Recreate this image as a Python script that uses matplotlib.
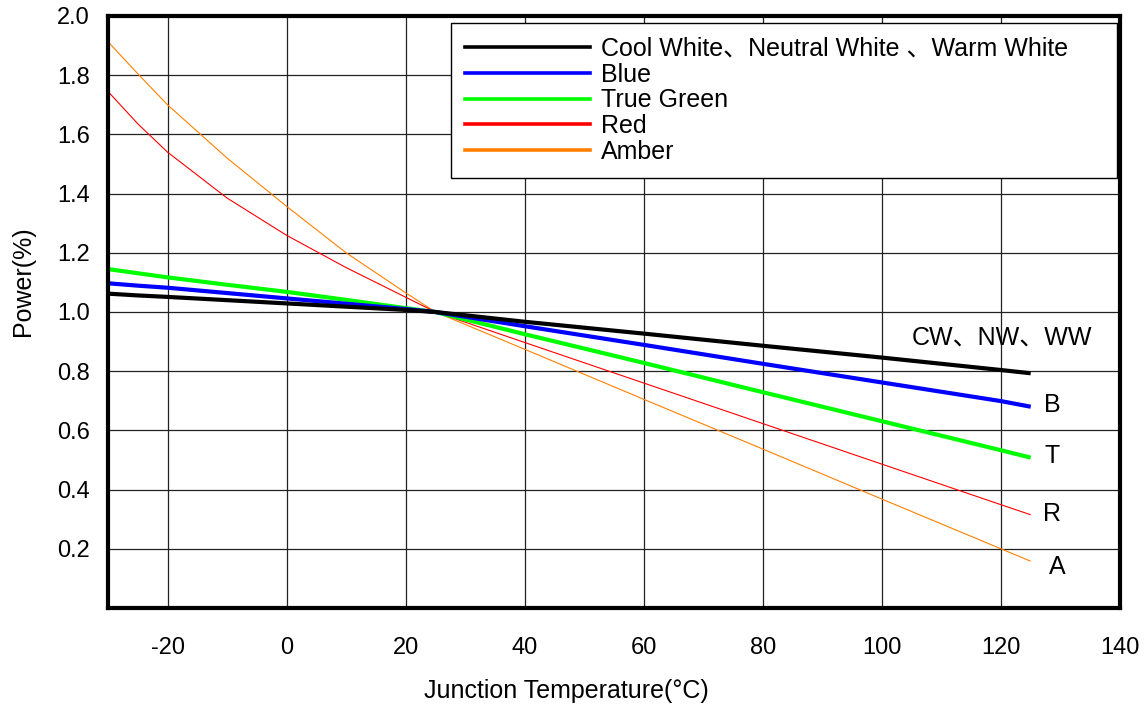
import numpy as np
import matplotlib
matplotlib.use("Agg")
from matplotlib import pyplot as plt
from matplotlib.lines import Line2D

plt.rcParams['font.family'] = ['Liberation Sans', 'Noto Sans CJK SC', 'DejaVu Sans']

# junction temperature (°C)
temps = [-30, -25, -20, -10, 0, 10, 20, 25, 40, 60, 80, 100, 120, 125]

# relative power
cw_nw_ww = [1.062, 1.056, 1.051, 1.040, 1.029, 1.018, 1.007, 1.0, 0.967, 0.927, 0.886, 0.846, 0.804, 0.793]
blue = [1.097, 1.089, 1.082, 1.064, 1.046, 1.028, 1.010, 1.0, 0.952, 0.889, 0.825, 0.762, 0.699, 0.680]
true_green = [1.145, 1.131, 1.117, 1.092, 1.068, 1.041, 1.013, 1.0, 0.925, 0.828, 0.729, 0.631, 0.533, 0.508]
red = [1.745, 1.636, 1.540, 1.385, 1.259, 1.150, 1.050, 1.0, 0.897, 0.760, 0.623, 0.486, 0.349, 0.315]
amber = [1.913, 1.805, 1.700, 1.520, 1.357, 1.200, 1.065, 1.0, 0.874, 0.705, 0.537, 0.368, 0.200, 0.158]

series_names = ["Cool White\u3001Neutral White \u3001Warm White", "Blue", "True Green", "Red", "Amber"]
series_colors = ["#000000", "#0000ff", "#00ff00", "#ff0000", "#ff8000"]
series_widths = [3.0, 3.0, 3.0, 0.8, 0.8]
end_labels = ["CW\u3001NW\u3001WW", "B", "T", "R", "A"]
end_label_pos = [(120.2, 0.913), (128.6, 0.687), (128.6, 0.513), (128.6, 0.318), (129.4, 0.14)]

x_ticks = [-20, 0, 20, 40, 60, 80, 100, 120, 140]
y_ticks = [0.2, 0.4, 0.6, 0.8, 1.0, 1.2, 1.4, 1.6, 1.8, 2.0]

fig = plt.figure(figsize=(11.44, 7.06), dpi=100)
ax = fig.add_axes([108 / 1144, 1 - 608 / 706, 1012 / 1144, 592 / 706])

all_series = [cw_nw_ww, blue, true_green, red, amber]
for i in range(len(all_series)):
    ax.plot(temps, all_series[i], color=series_colors[i], lw=series_widths[i],
            zorder=10 - i, solid_capstyle='butt')

for lab, (x, y) in zip(end_labels, end_label_pos):
    ax.text(x, y, lab, fontsize=18, ha='center', va='center', color='black')

ax.set_xlim(-30, 140)
ax.set_ylim(0, 2.0)
ax.set_xticks(x_ticks)
ax.set_yticks(y_ticks)
ax.set_xticklabels([str(t) for t in x_ticks])
ax.set_yticklabels(["%.1f" % t for t in y_ticks])
ax.tick_params(axis='both', length=0, labelsize=17)
ax.tick_params(axis='x', pad=21)
ax.tick_params(axis='y', pad=13)
ax.grid(True, color='#222222', lw=0.9)
ax.set_axisbelow(True)
for sp in ax.spines.values():
    sp.set_linewidth(3)
    sp.set_color('black')
    sp.set_zorder(20)

ax.set_xlabel("Junction Temperature(\u00b0C)", fontsize=18)
ax.set_ylabel("Power(%)", fontsize=18)
ax.xaxis.set_label_coords(0.4526, -0.120)
ax.yaxis.set_label_coords(-0.072, 0.552)

handles = [Line2D([], [], color=c, lw=2.6) for c in series_colors]
leg = ax.legend(handles, series_names, loc='upper left',
                bbox_to_anchor=(451 / 1144, 1 - 176 / 706, 666 / 1144, 153 / 706),
                bbox_transform=fig.transFigure, mode='expand', borderaxespad=0,
                fontsize=18, handlelength=5.0, handletextpad=0.45,
                labelspacing=0.07, borderpad=0.55, fancybox=False,
                framealpha=1, edgecolor='black')
leg.get_frame().set_linewidth(1.0)
leg.set_zorder(30)

fig.savefig("out.png", dpi=100)
